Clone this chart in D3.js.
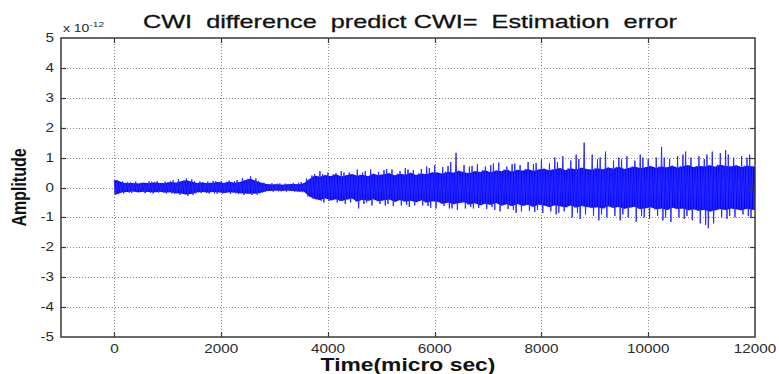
<!DOCTYPE html>
<html>
<head>
<meta charset="utf-8">
<script src="https://cdn.jsdelivr.net/npm/d3@7"></script>
<style>
body { margin: 0; background: #fff; }
text { font-family: "Liberation Sans", Arial, sans-serif; }
</style>
</head>
<body>
<script>
const binWidth = 100;

// top and bottom edge of the dense band in each bin
const coreHigh = [
  .24, .17, .14, .15, .13, .16, .14, .17, .15, .14,
  .18, .16, .21, .24, .19, .15, .17, .14, .16, .18,
  .15, .19, .16, .18, .24, .29, .22, .16, .12, .10,
  .11, .09, .11, .12, .11, .14, .28, .40, .36, .42,
  .38, .44, .37, .41, .45, .39, .43, .38, .46, .41,
  .44, .48, .40, .46, .43, .49, .42, .47, .44, .50,
  .50, .46, .53, .49, .56, .51, .48, .55, .52, .58,
  .50, .57, .54, .60, .53, .59, .56, .62, .55, .60,
  .63, .57, .61, .65, .58, .64, .60, .66, .62, .59,
  .64, .60, .67, .63, .69, .62, .66, .70, .64, .68,
  .72, .65, .70, .67, .73, .66, .71, .75, .68, .72,
  .70, .74, .69, .76, .72, .70, .74, .68, .73, .70
];
const coreLow = [
  -.22, -.16, -.15, -.13, -.16, -.14, -.15, -.16, -.14, -.17,
  -.16, -.19, -.20, -.23, -.21, -.16, -.15, -.17, -.15, -.16,
  -.18, -.16, -.17, -.19, -.20, -.21, -.20, -.17, -.12, -.11,
  -.10, -.11, -.10, -.12, -.13, -.13, -.30, -.38, -.42, -.36,
  -.43, -.39, -.45, -.40, -.37, -.47, -.41, -.44, -.39, -.46,
  -.43, -.40, -.48, -.42, -.47, -.44, -.49, -.43, -.50, -.46,
  -.48, -.54, -.50, -.56, -.52, -.49, -.57, -.53, -.59, -.54,
  -.58, -.52, -.60, -.56, -.62, -.55, -.61, -.58, -.64, -.57,
  -.60, -.65, -.59, -.63, -.66, -.60, -.67, -.62, -.65, -.68,
  -.66, -.70, -.63, -.68, -.65, -.71, -.67, -.64, -.72, -.69,
  -.66, -.73, -.70, -.75, -.68, -.72, -.70, -.76, -.73, -.78,
  -.74, -.80, -.76, -.72, -.75, -.70, -.73, -.76, -.71, -.74
];

// highest spike in each bin
const peakHigh = [
  .25, .20, .18, .17, .20, .16, .20, .19, .21, .20,
  .22, .24, .28, .30, .27, .21, .20, .20, .22, .21,
  .22, .23, .21, .25, .32, .38, .30, .22, .16, .14,
  .13, .14, .13, .15, .16, .18, .30, .45, .55, .45,
  .50, .48, .55, .50, .50, .60, .50, .55, .60, .52,
  .58, .62, .60, .55, .65, .60, .58, .62, .70, .65,
  .75, .68, .72, .85, 1.16, .75, .70, .72, .78, .70,
  .75, .80, .83, .70, .78, .80, .75, .85, .78, .82,
  .95, .80, 1.00, .85, 1.05, .90, 1.10, .95, 1.50, 1.10,
  .95, 1.00, 1.20, .90, 1.00, .95, 1.05, .90, 1.10, 1.00,
  .95, 1.00, 1.36, 1.00, .95, 1.05, 1.10, 1.20, 1.00, 1.05,
  .95, 1.10, 1.20, 1.15, 1.25, 1.10, 1.00, 1.05, 1.00, 1.10
];

// lowest spike in each bin
const peakLow = [
  -.25, -.20, -.17, -.18, -.16, -.19, -.18, -.20, -.17, -.20,
  -.20, -.22, -.25, -.28, -.25, -.20, -.19, -.20, -.20, -.21,
  -.20, -.22, -.20, -.22, -.25, -.25, -.24, -.20, -.15, -.14,
  -.13, -.13, -.14, -.14, -.15, -.16, -.30, -.40, -.45, -.50,
  -.45, -.50, -.45, -.55, -.50, -.70, -.55, -.50, -.60, -.55,
  -.60, -.55, -.62, -.60, -.58, -.65, -.60, -.60, -.62, -.68,
  -.70, -.62, -.70, -.70, -.75, -.70, -.65, -.70, -.68, -.72,
  -.65, -.75, -.80, -.72, -.75, -.85, -.80, -.78, -.82, -.75,
  -.85, -.80, -.90, -.85, -.80, -1.00, -.85, -1.05, -.90, -.95,
  -1.10, -.90, -1.00, -.95, -1.10, -.90, -1.00, -1.14, -.95, -1.00,
  -1.05, -.95, -1.10, -1.00, -1.15, -1.00, -1.05, -.95, -1.10, -1.20,
  -1.25, -1.36, -1.20, -1.00, -1.05, -.95, -1.00, -.90, -.95, -1.00
];

const xTicks = [0, 2000, 4000, 6000, 8000, 10000, 12000];
const yTicks = [-5, -4, -3, -2, -1, 0, 1, 2, 3, 4, 5];
const titleText = "CWI  difference  predict CWI=  Estimation  error";
const xLabel = "Time(micro sec)";
const yLabel = "Amplitude";

const width = 779, height = 374;
const box = { left: 61, right: 755, top: 38, bottom: 337 };
const sx = 1.27; // the source picture is stretched sideways

const svg = d3.select("body").append("svg")
    .attr("width", width)
    .attr("height", height);

const x = d3.scaleLinear().domain([-1000, 12000]).range([box.left, box.right]);
const y = d3.scaleLinear().domain([-5, 5]).range([box.bottom, box.top]);

// dotted grid
const grid = svg.append("g")
    .attr("stroke", "#8a8a8a")
    .attr("stroke-width", 1)
    .attr("stroke-dasharray", "1,2");
grid.selectAll(".gx").data(xTicks.filter(t => t < 12000)).enter().append("line")
    .attr("x1", d => Math.round(x(d)) + 0.5).attr("x2", d => Math.round(x(d)) + 0.5)
    .attr("y1", box.top).attr("y2", box.bottom);
grid.selectAll(".gy").data(yTicks.filter(t => t > -5 && t < 5)).enter().append("line")
    .attr("y1", d => Math.round(y(d)) + 0.5).attr("y2", d => Math.round(y(d)) + 0.5)
    .attr("x1", box.left).attr("x2", box.right);

// dense band
const band = coreHigh.map((hi, i) => ({ t: i * binWidth + binWidth / 2, hi, lo: coreLow[i] }));
band.unshift({ t: 0, hi: coreHigh[0], lo: coreLow[0] });
band.push({ t: 12000, hi: coreHigh[coreHigh.length - 1], lo: coreLow[coreLow.length - 1] });

svg.append("path")
    .datum(band)
    .attr("fill", "#0000ff")
    .attr("d", d3.area().x(d => x(d.t)).y0(d => y(d.lo)).y1(d => y(d.hi)));

// spikes: zigzag through each bin's extremes, the spike slot moves from bin to bin
const pts = [];
coreHigh.forEach((c, i) => {
    const t0 = i * binWidth;
    const slots = [c, coreLow[i], c, coreLow[i]];
    const hiSlot = (i * 3) % 4 & ~1;
    const loSlot = ((i * 5 + 1) % 4) | 1;
    slots[hiSlot] = peakHigh[i];
    slots[loSlot] = peakLow[i];
    slots.forEach((v, k) => pts.push([t0 + k * binWidth / slots.length, v]));
});
pts.push([12000, 0]);

svg.append("path")
    .datum(pts)
    .attr("fill", "none")
    .attr("stroke", "#2a2aff")
    .attr("stroke-width", 1)
    .attr("d", d3.line().x(d => x(d[0])).y(d => y(d[1])));

// box and inward ticks on all sides
const axisColor = "#3a3a3a";
svg.append("rect")
    .attr("x", box.left).attr("y", box.top)
    .attr("width", box.right - box.left).attr("height", box.bottom - box.top)
    .attr("fill", "none").attr("stroke", axisColor).attr("stroke-width", 1.5);

const tickLen = 5;
const ticks = svg.append("g").attr("stroke", axisColor).attr("stroke-width", 1.2);
xTicks.filter(t => t < 12000).forEach(t => {
    const px = Math.round(x(t)) + 0.5;
    ticks.append("line").attr("x1", px).attr("x2", px).attr("y1", box.bottom).attr("y2", box.bottom - tickLen);
    ticks.append("line").attr("x1", px).attr("x2", px).attr("y1", box.top).attr("y2", box.top + tickLen);
});
yTicks.filter(t => t > -5 && t < 5).forEach(t => {
    const py = Math.round(y(t)) + 0.5;
    ticks.append("line").attr("y1", py).attr("y2", py).attr("x1", box.left).attr("x2", box.left + tickLen);
    ticks.append("line").attr("y1", py).attr("y2", py).attr("x1", box.right).attr("x2", box.right - tickLen);
});

// tick labels
const labelColor = "#2a2a2a";
svg.selectAll(".xl").data(xTicks).enter().append("text")
    .attr("transform", d => `translate(${x(d)},${box.bottom + 16}) scale(${sx},1)`)
    .attr("text-anchor", "middle")
    .attr("font-size", 12)
    .attr("fill", labelColor)
    .text(d => d);

svg.selectAll(".yl").data(yTicks).enter().append("text")
    .attr("transform", d => `translate(${box.left - 7},${y(d) + 4}) scale(${sx},1)`)
    .attr("text-anchor", "end")
    .attr("font-size", 12)
    .attr("fill", labelColor)
    .text(d => d);

// exponent
const expo = svg.append("text")
    .attr("transform", `translate(${box.left + 2},${box.top - 6}) scale(${sx},1)`)
    .attr("font-size", 11)
    .attr("fill", labelColor);
expo.append("tspan").text("x 10");
expo.append("tspan").attr("dy", -5).attr("font-size", 8).text("-12");

// title and axis labels
svg.append("text")
    .attr("x", 143).attr("y", 28)
    .attr("font-size", 19)
    .attr("fill", "#111")
    .attr("stroke", "#111").attr("stroke-width", 0.3)
    .attr("textLength", 534)
    .attr("lengthAdjust", "spacingAndGlyphs")
    .style("white-space", "pre")
    .text(titleText);

svg.append("text")
    .attr("transform", `translate(${(box.left + box.right) / 2},371) scale(${sx},1)`)
    .attr("text-anchor", "middle")
    .attr("font-size", 18)
    .attr("font-weight", "bold")
    .attr("fill", "#111")
    .text(xLabel);

svg.append("text")
    .attr("transform", `translate(26,${(box.top + box.bottom) / 2}) rotate(-90) scale(1,${sx})`)
    .attr("text-anchor", "middle")
    .attr("font-size", 16)
    .attr("font-weight", "bold")
    .attr("fill", "#111")
    .text(yLabel);
</script>
</body>
</html>
